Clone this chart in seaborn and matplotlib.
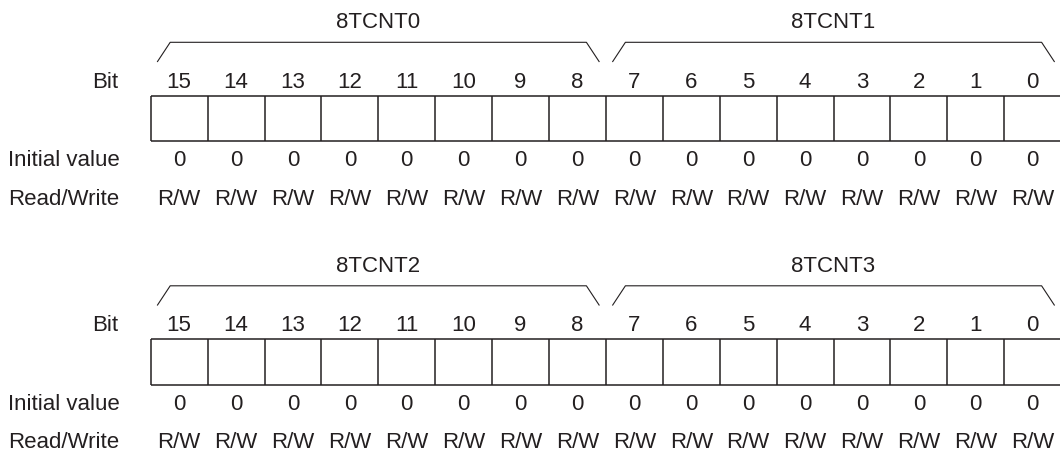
import matplotlib
matplotlib.use("Agg")
import matplotlib.pyplot as plt
import seaborn as sns

# register diagram data
register_names = [["8TCNT0", "8TCNT1"], ["8TCNT2", "8TCNT3"]]
bit_labels = ["15", "14", "13", "12", "11", "10", "9", "8",
              "7", "6", "5", "4", "3", "2", "1", "0"]
initial_values = ["0", "0", "0", "0", "0", "0", "0", "0",
                  "0", "0", "0", "0", "0", "0", "0", "0"]
read_write = ["R/W", "R/W", "R/W", "R/W", "R/W", "R/W", "R/W", "R/W",
              "R/W", "R/W", "R/W", "R/W", "R/W", "R/W", "R/W", "R/W"]
row_labels = ["Bit", "Initial value", "Read/Write"]

sns.set_style("white")
plt.rcParams["font.family"] = ["Liberation Sans", "DejaVu Sans"]

INK = "#231f20"
FS = 16
X0, CW = 150.7, 56.9   # left edge of bit 15 and cell width (pixels)
W, H = 1060, 453

fig = plt.figure(figsize=(W / 100, H / 100), dpi=100)
ax = fig.add_axes([0, 0, 1, 1])
ax.set_xlim(0, W)
ax.set_ylim(H, 0)
ax.axis("off")

n = len(bit_labels)

def draw_panel(top, names):
    # brackets with register names
    half = n // 2
    for k, name in enumerate(names):
        left = X0 + k * half * CW
        right = left + half * CW
        ax.plot([left + 6.5, left + 19.5, right - 19.5, right - 6.5],
                [top + 62, top + 42.3, top + 42.3, top + 62],
                color=INK, lw=0.8, solid_capstyle="butt")
        ax.text((left + right) / 2, top + 28, name, ha="center", va="baseline",
                fontsize=FS, color=INK)

    # row labels
    ax.text(118, top + 87.5, row_labels[0], ha="right", va="baseline", fontsize=FS, color=INK)
    ax.text(8, top + 166.5, row_labels[1], ha="left", va="baseline", fontsize=FS, color=INK)
    ax.text(8, top + 205, row_labels[2], ha="left", va="baseline", fontsize=FS, color=INK)

    # cells
    box_top, box_bot = top + 95.7, top + 141
    ax.hlines([box_top, box_bot], X0, X0 + n * CW, color=INK, lw=1.1)
    ax.vlines([X0 + i * CW for i in range(n + 1)], box_top, box_bot, color=INK, lw=1.1)

    for i in range(n):
        cx = X0 + (i + 0.5) * CW
        ax.text(cx, top + 87.5, bit_labels[i], ha="center", va="baseline", fontsize=FS, color=INK)
        ax.text(cx, top + 166.5, initial_values[i], ha="center", va="baseline", fontsize=FS, color=INK)
        ax.text(cx, top + 205, read_write[i], ha="center", va="baseline", fontsize=FS, color=INK)

for p, names in enumerate(register_names):
    draw_panel(p * 243.5, names)

fig.savefig("out.png", dpi=100, facecolor="white")
